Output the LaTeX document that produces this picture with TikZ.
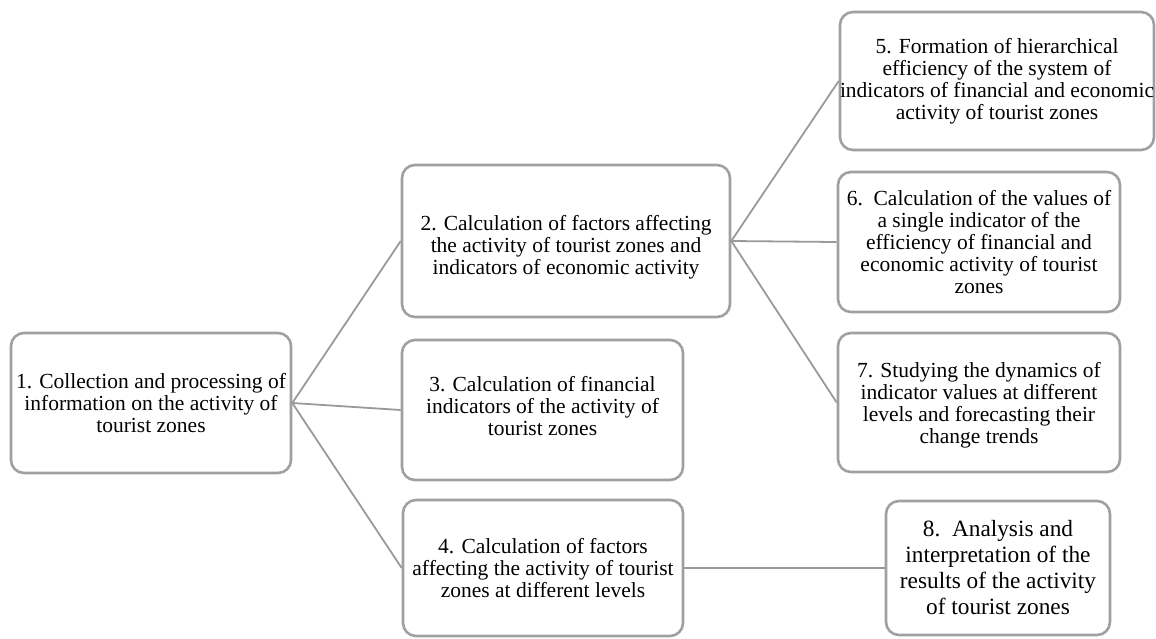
\documentclass[tikz,border=0pt]{standalone}
\usepackage{fontspec}
\setmainfont{Liberation Serif}
\newfontfamily\tnr{Liberation Serif}
\begin{document}
\begin{tikzpicture}[x=1pt,y=-1pt,
  stepbox/.style={draw=boxgray, line width=2.6pt, rounded corners=13pt, fill=white,
    inner sep=0pt, align=center, font=\tnr\fontsize{21.5}{22}\selectfont},
  bigbox/.style={stepbox, font=\tnr\fontsize{23.3}{26}\selectfont},
  steptext/.style={inner sep=0pt, align=center, font=\tnr\fontsize{21.5}{22}\selectfont},
  link/.style={draw=linegray, line width=1.8pt}]
\definecolor{boxgray}{HTML}{A0A0A0}
\definecolor{linegray}{HTML}{9A9A9A}
\useasboundingbox (0,0) rectangle (1156,638);
\node[stepbox, minimum width=280pt, minimum height=140pt] (n1) at (151,403)
  {1. Collection and processing of\\information on the activity of\\tourist zones};
\node[stepbox, minimum width=328pt, minimum height=152pt] (n2) at (566,241) {};
\node[steptext] (t2) at (566,247)
  {2. Calculation of factors affecting\\the activity of tourist zones and\\indicators of economic activity};
\node[stepbox, minimum width=281pt, minimum height=140pt] (n3) at (542.5,410) {};
\node[steptext] (t3) at (542.5,406)
  {3. Calculation of financial\\indicators of the activity of\\tourist zones};
\node[stepbox, minimum width=280pt, minimum height=136pt] (n4) at (543,568)
  {4. Calculation of factors\\affecting the activity of tourist\\zones at different levels};
\node[stepbox, minimum width=314pt, minimum height=138pt] (n5) at (997,81)
  {5. Formation of hierarchical\\efficiency of the system of\\indicators of financial and economic\\activity of tourist zones};
\node[stepbox, minimum width=282pt, minimum height=140pt] (n6) at (979,242)
  {6.\ \ Calculation of the values of\\a single indicator of the\\efficiency of financial and\\economic activity of tourist\\zones};
\node[stepbox, minimum width=282pt, minimum height=139pt] (n7) at (979,402.5) {};
\node[steptext] (t7) at (979,405.5)
  {7. Studying the dynamics of\\indicator values at different\\levels and forecasting their\\change trends};
\node[bigbox, minimum width=224pt, minimum height=134pt] (n8) at (998,568)
  {8.\ \ Analysis and\\interpretation of the\\results of the activity\\of tourist zones};
\draw[link] (n1.east) -- (n2.west);
\draw[link] (n1.east) -- (n3.west);
\draw[link] (n1.east) -- (n4.west);
\draw[link] (n2.east) -- (n5.west);
\draw[link] (n2.east) -- (n6.west);
\draw[link] (n2.east) -- (n7.west);
\draw[link] (n4.east) -- (n8.west);
\end{tikzpicture}
\end{document}
